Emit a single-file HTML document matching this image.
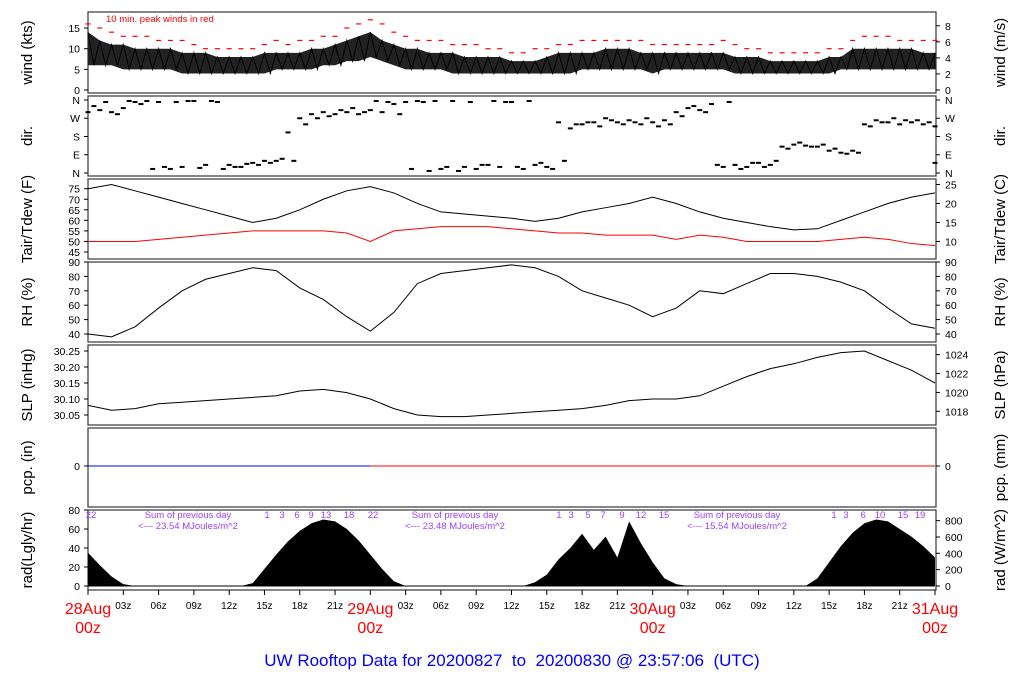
<!DOCTYPE html>
<html><head><meta charset="utf-8"><style>
html,body{margin:0;padding:0;background:#fff;}
svg{display:block;font-family:"Liberation Sans",sans-serif;}
</style></head><body>
<svg id="c" width="1024" height="700" xmlns="http://www.w3.org/2000/svg"></svg>
<script>
// ---- data (hourly, h = 0..72 from 28Aug 00z) ----
const windHi=[14,12,11,11,10,10,10,10,9,9,9,8,8,8,8,9,9,9,9,10,10,11,12,13,14,12,11,10,10,9,9,9,8,8,8,8,7,7,7,8,9,9,9,9,10,10,10,9,9,9,9,9,9,9,9,8,8,8,7,7,7,7,7,8,8,10,10,10,10,10,10,9,9];
const windLo=[6,6,6,5,5,5,5,5,4,4,4,4,4,4,4,4,5,5,5,5,6,6,7,7,8,7,6,5,5,5,5,4,4,4,4,4,4,4,4,4,4,4,5,5,5,5,5,5,4,5,5,5,5,5,5,4,4,4,4,4,4,4,4,4,5,5,5,5,5,5,5,5,5];
const windPeak=[16,15,14,13,13,13,12,12,12,11,10,10,10,10,10,11,12,11,12,12,13,13,15,16,17,16,14,13,12,12,12,11,11,11,10,10,9,9,10,10,11,11,12,12,12,12,12,12,11,11,11,11,11,11,12,11,10,10,9,9,9,9,9,10,10,12,13,13,13,12,12,12,12];
const dirA=[300,310,300,320,350,355,350,20,30,355,40,350,40,30,50,60,60,200,270,290,300,290,300,290,310,300,340,350,355,10,20,355,30,20,40,30,350,20,40,30,250,220,240,250,270,250,260,240,250,260,300,320,310,340,30,40,30,50,40,130,140,135,130,110,100,110,240,260,250,240,250,240,230];
const dirB=[330,350,290,355,340,20,30,350,355,25,355,20,30,45,40,50,70,60,240,270,280,310,320,300,355,350,290,20,350,355,30,10,350,40,355,350,30,355,50,20,60,240,250,230,260,240,250,270,230,240,280,330,300,40,350,20,50,30,60,120,150,130,140,120,95,100,230,250,270,260,260,250,50];
// 2-hourly (h = 0,2,...,72)
const tairF=[75,77,74,71,68,65,62,59,61,65,70,74,76,73,68,64,63,62,61,59.5,61,64,66,68,71,68,64,61,59,57,55.5,56,60,64,68,71,73];
const tdewF=[50,50,50,51,52,53,54,55,55,55,55,54,50,55,56,57,57,57,56,55,54,54,53,53,53,51,53,52,50,50,50,50,51,52,51,49,48];
const rhPct=[40,38,45,58,70,78,82,86,84,72,64,52,42,55,75,82,84,86,88,86,80,70,65,60,52,58,70,68,75,82,82,80,76,70,58,47,44];
const slpIn=[30.08,30.065,30.07,30.085,30.09,30.095,30.10,30.105,30.11,30.125,30.13,30.12,30.10,30.07,30.05,30.045,30.045,30.05,30.055,30.06,30.065,30.07,30.08,30.095,30.10,30.10,30.11,30.14,30.17,30.195,30.21,30.23,30.245,30.25,30.22,30.19,30.15];
const radLy=[35,22,10,2,0,0,0,0,0,0,0,0,0,0,3,18,33,47,58,66,70,68,60,48,33,18,5,0,0,0,0,0,0,0,0,0,0,0,4,12,28,40,55,38,52,30,68,45,25,8,2,0,0,0,0,0,0,0,0,0,0,0,8,25,42,56,66,70,68,60,52,42,30];
const windTicks=[0,5,10,15], windMsTicks=[0,2,4,6,8];
const dirTicks=[[0,'N'],[90,'E'],[180,'S'],[270,'W'],[360,'N']];
const tFTicks=[45,50,55,60,65,70,75], tCTicks=[10,15,20,25];
const rhTicks=[40,50,60,70,80,90];
const slpTicks=[30.05,30.10,30.15,30.20,30.25], hpaTicks=[1018,1020,1022,1024];
const radTicks=[0,20,40,60,80], wm2Ticks=[0,200,400,600,800];
const hourTicks=['03z','06z','09z','12z','15z','18z','21z'];
const dateLabels=['28Aug','29Aug','30Aug','31Aug'];

const svg=document.getElementById('c');
const NS='http://www.w3.org/2000/svg';
function mk(tag,at,txt){const e=document.createElementNS(NS,tag);for(const k in at)e.setAttribute(k,at[k]);if(txt!==undefined)e.textContent=txt;svg.appendChild(e);return e;}
const X0=88,X1=935;
const x=h=>X0+h*(X1-X0)/72;
const yWind=v=>90-v*4.13;
const yDir=d=>173-d*0.2028;
const yF=v=>188.7+(75-v)*2.11;
const yRH=v=>262+(90-v)*1.44;
const ySLP=v=>351+(30.25-v)*320;
const yRad=v=>586-v*0.95;

const panels=[['wind',12,93,'wind (kts)','wind (m/s)'],['dir',96,176,'dir.','dir.'],['temp',179,259,'Tair/Tdew (F)','Tair/Tdew (C)'],['rh',262,342,'RH (%)','RH (%)'],['slp',345,425,'SLP (inHg)','SLP (hPa)'],['pcp',428,507,'pcp. (in)','pcp. (mm)'],['rad',510,590,'rad(Lgly/hr)','rad (W/m^2)']];
panels.forEach(p=>{
  let r=mk('rect',{x:X0,y:p[1],width:X1-X0+1,height:p[2]-p[1],fill:'none',stroke:'#444','stroke-width':1.3});
  
  
  const cy=(p[1]+p[2])/2;
  let t=mk('text',{x:0,y:0,transform:`translate(32,${cy}) rotate(-90)`,'text-anchor':'middle','font-size':15},p[3]);
  
  
  let t2=mk('text',{x:0,y:0,transform:`translate(1005,${cy}) rotate(-90)`,'text-anchor':'middle','font-size':15},p[4]);
  
  
});
function lt(y,label,name){mk('line',{x1:X0-4,x2:X0,y1:y,y2:y,stroke:'#000'});let t=mk('text',{x:X0-8,y:y+4,'text-anchor':'end','font-size':10.5},label);}
function rt(y,label,name){mk('line',{x1:X1+1,x2:X1+5,y1:y,y2:y,stroke:'#000'});let t=mk('text',{x:X1+10,y:y+4,'text-anchor':'start','font-size':10.5},label);}
windTicks.forEach(v=>lt(yWind(v),v,'wind-kts-tick'));
windMsTicks.forEach(v=>rt(yWind(v*1.94384),v,'wind-ms-tick'));
dirTicks.forEach(d=>{lt(yDir(d[0]),d[1],'dir-tick-left');rt(yDir(d[0]),d[1],'dir-tick-right');});
tFTicks.forEach(v=>lt(yF(v),v,'temp-f-tick'));
tCTicks.forEach(v=>rt(yF(v*1.8+32),v,'temp-c-tick'));
rhTicks.forEach(v=>{lt(yRH(v),v,'rh-tick-left');rt(yRH(v),v,'rh-tick-right');});
slpTicks.forEach(v=>lt(ySLP(v),v.toFixed(2),'slp-inhg-tick'));
hpaTicks.forEach(v=>rt(ySLP(v/33.8639),v,'slp-hpa-tick'));
lt(466,'0','pcp-in-tick');rt(466,'0','pcp-mm-tick');
radTicks.forEach(v=>lt(yRad(v),v,'rad-ly-tick'));
wm2Ticks.forEach(v=>rt(yRad(v/11.63),v,'rad-wm2-tick'));

// wind: band between lull and high, plus zigzag
let band=[];windHi.forEach((v,h)=>band.push(x(h)+','+yWind(v)));
for(let h=windLo.length-1;h>=0;h--)band.push(x(h)+','+yWind(windLo[h]));
let wb=mk('polygon',{points:band.join(' '),fill:'#222'});


let wp=[];windHi.forEach((v,h)=>{wp.push(x(h)+','+yWind(v));wp.push(x(Math.min(72,h+0.5))+','+yWind(windLo[h]));});
let wl=mk('polyline',{points:wp.join(' '),fill:'none',stroke:'#000','stroke-width':1});


windPeak.forEach((v,h)=>{let d=mk('line',{x1:x(h)-2.5,x2:x(h)+2.5,y1:yWind(v),y2:yWind(v),stroke:'#f00','stroke-width':1.2});
  
  });
let wn=mk('text',{x:106,y:22,fill:'#f00','font-size':9.5},'10 min. peak winds in red');


// dir
[dirA,dirB].forEach((arr,k)=>arr.forEach((d,h)=>{const xx=x(Math.min(72,h+k*0.5));
  let e=mk('rect',{x:xx-2.5,y:yDir(d)-1,width:5,height:2,fill:'#000'});
  
  }));
// series lines
function line(arr,yf,color,name,step){const pts=arr.map((v,i)=>x(i*step)+','+yf(v)).join(' ');
  let e=mk('polyline',{points:pts,fill:'none',stroke:color,'stroke-width':1});
  
  }
line(tairF,yF,'#000','tair-line',2);
line(tdewF,yF,'#f00','tdew-line',2);
line(rhPct,yRH,'#000','rh-line',2);
line(slpIn,ySLP,'#000','slp-line',2);
let pb=mk('line',{x1:X0,x2:x(24),y1:466,y2:466,stroke:'#00f'});


let pr=mk('line',{x1:x(24),x2:X1,y1:466,y2:466,stroke:'#f00'});


// radiation area
let rp=[x(0)+','+yRad(0)];radLy.forEach((v,h)=>rp.push(x(h)+','+yRad(v)));rp.push(x(72)+','+yRad(0));
let ra=mk('polygon',{points:rp.join(' '),fill:'#000'});


mk('line',{x1:X0,x2:X1,y1:yRad(0),y2:yRad(0),stroke:'#000'});
// rad annotations
const purple='#a040ff';
function ptxt(xx,yy,s,name,anchor){let t=mk('text',{x:xx,y:yy,fill:purple,'font-size':9.5,'text-anchor':anchor||'middle'},s);}
[[188,'23.54'],[455,'23.48'],[737,'15.54']].forEach(s=>{ptxt(s[0],518,'Sum of previous day','daily-sum-title');ptxt(s[0],529,'<--- '+s[1]+' MJoules/m^2','daily-sum-value');});
ptxt(91,518,'22','hour-label');
[[267,'1'],[282,'3'],[297,'6'],[311,'9'],[326,'13'],[349,'18'],[373,'22'],[559,'1'],[571,'3'],[588,'5'],[603,'7'],[622,'9'],[641,'12'],[664,'15'],[834,'1'],[846,'3'],[863,'6'],[880,'10'],[903,'15'],[920,'19']].forEach(a=>ptxt(a[0],518,a[1],'hour-label'));
// x axis
for(let h=0;h<=72;h+=3){mk('line',{x1:x(h),x2:x(h),y1:590,y2:595,stroke:'#000'});
  if(h%24){let t=mk('text',{x:x(h),y:609,'text-anchor':'middle','font-size':10},hourTicks[(h%24)/3-1]);
    
    }}
dateLabels.forEach((d,i)=>{let t=mk('text',{x:x(i*24),y:614,'text-anchor':'middle','font-size':16,fill:'#f00'},d);
  
  
  let t2=mk('text',{x:x(i*24),y:633,'text-anchor':'middle','font-size':16,fill:'#f00'},'00z');
  
  });
let ti=mk('text',{x:512,y:666,'text-anchor':'middle','font-size':17,fill:'#00f',style:'white-space:pre'},'UW Rooftop Data for 20200827  to  20200830 @ 23:57:06  (UTC)');


</script>
</body></html>
